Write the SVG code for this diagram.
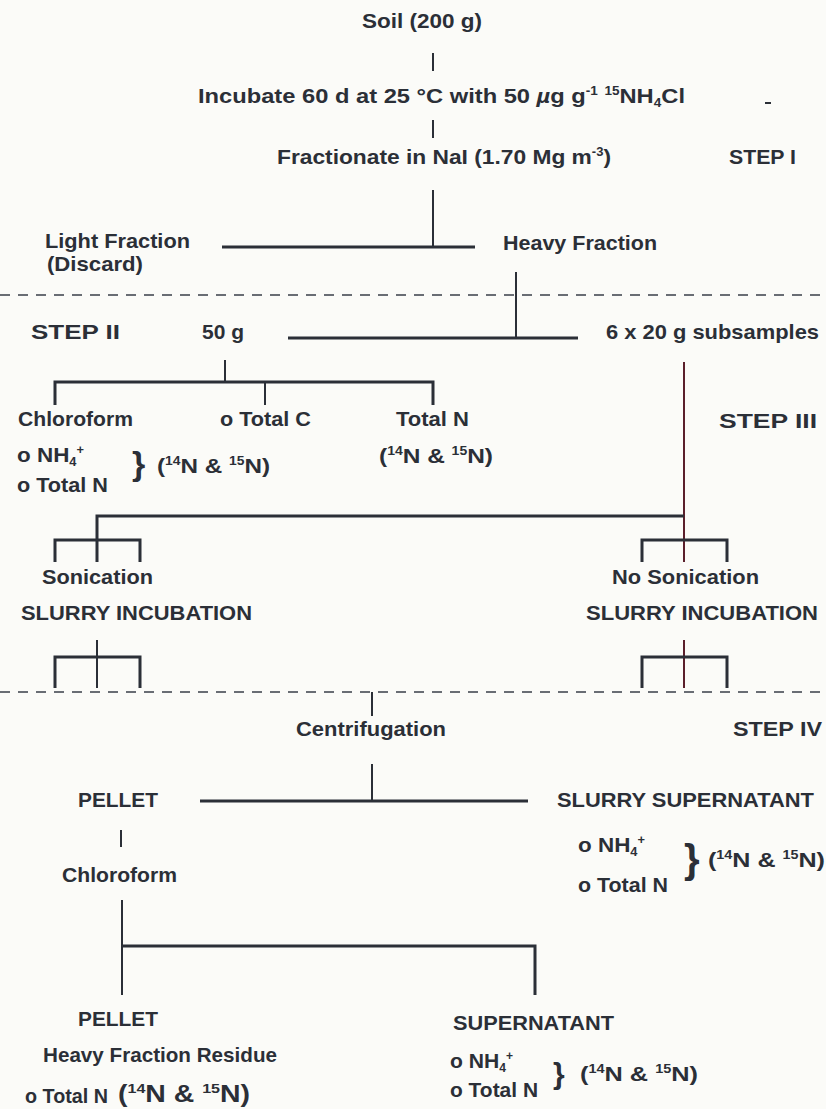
<svg xmlns="http://www.w3.org/2000/svg" width="826" height="1109" viewBox="0 0 826 1109">
<style>
text{font-family:"Liberation Sans",Arial,sans-serif;font-weight:bold;font-size:21px;fill:#2b2f37}
.ln{stroke:#2b2f37;stroke-width:3;fill:none}
.th{stroke:#2b2f37;stroke-width:2;fill:none}
.rd{stroke:#5b1f2b;stroke-width:2;fill:none}
.dash{stroke:#3a3f48;stroke-width:1.5;stroke-dasharray:10 8;fill:none}
.sup{font-size:12px}
</style>
<rect width="826" height="1109" fill="#fbfbf8"/>
<g id="connectors">
<line class="th" x1="433" y1="53" x2="433" y2="71"/>
<line class="th" x1="433" y1="120" x2="433" y2="138"/>
<line class="th" x1="433" y1="190" x2="433" y2="247"/>
<line class="ln" x1="222" y1="247" x2="475" y2="247"/>
<line class="dash" x1="0" y1="295" x2="826" y2="295"/>
<line class="th" x1="516" y1="272" x2="516" y2="338"/>
<line class="ln" x1="288" y1="338" x2="578" y2="338"/>
<line class="th" x1="225" y1="360" x2="225" y2="382"/>
<polyline class="ln" points="55,405 55,382 433,382 433,405"/>
<line class="th" x1="265" y1="382" x2="265" y2="405"/>
<line class="rd" x1="684" y1="362" x2="684" y2="562"/>
<polyline class="ln" points="97,562 97,516 684,516"/>
<polyline class="ln" points="55,562 55,540 140,540 140,562"/>
<polyline class="ln" points="642,562 642,540 727,540 727,562"/>
<line class="th" x1="97" y1="640" x2="97" y2="688"/>
<polyline class="ln" points="55,688 55,657 140,657 140,688"/>
<line class="rd" x1="684" y1="640" x2="684" y2="688"/>
<polyline class="ln" points="642,688 642,657 727,657 727,688"/>
<line class="dash" x1="0" y1="692" x2="826" y2="692"/>
<line class="th" x1="372" y1="692" x2="372" y2="716"/>
<line class="th" x1="372" y1="764" x2="372" y2="801"/>
<line class="ln" x1="200" y1="801" x2="528" y2="801"/>
<line class="th" x1="121" y1="830" x2="121" y2="847"/>
<line class="th" x1="122" y1="900" x2="122" y2="995"/>
<polyline class="ln" points="122,946 535,946 535,995"/>
<line class="th" x1="765" y1="103" x2="771" y2="103"/>
</g>
<g id="step1">
<text x="362" y="28" textLength="120" lengthAdjust="spacingAndGlyphs">Soil (200 g)</text>
<text x="198" y="103" textLength="487" lengthAdjust="spacingAndGlyphs">Incubate 60 d at 25 °C with 50 <tspan font-style="italic">µ</tspan>g g<tspan class="sup" dy="-8">-1</tspan><tspan dy="8"> </tspan><tspan class="sup" dy="-8">15</tspan><tspan dy="8">NH</tspan><tspan class="sup" dy="4">4</tspan><tspan dy="-4">Cl</tspan></text>
<text x="277" y="164" textLength="334" lengthAdjust="spacingAndGlyphs">Fractionate in NaI (1.70 Mg m<tspan class="sup" dy="-8">-3</tspan><tspan dy="8">)</tspan></text>
<text x="729" y="164" textLength="67" lengthAdjust="spacingAndGlyphs">STEP I</text>
</g>
<g id="light-fraction">
<text x="45" y="248" textLength="145" lengthAdjust="spacingAndGlyphs">Light Fraction</text>
<text x="47" y="271" textLength="96" lengthAdjust="spacingAndGlyphs">(Discard)</text>
</g>
<g id="heavy-fraction">
<text x="503" y="250" textLength="154" lengthAdjust="spacingAndGlyphs">Heavy Fraction</text>
</g>
<g id="step2">
<text x="31" y="339" textLength="89" lengthAdjust="spacingAndGlyphs">STEP II</text>
<text x="202" y="339" textLength="42" lengthAdjust="spacingAndGlyphs">50 g</text>
<text x="606" y="339" textLength="213" lengthAdjust="spacingAndGlyphs">6 x 20 g subsamples</text>
</g>
<g id="chloroform1">
<text x="18" y="426" textLength="115" lengthAdjust="spacingAndGlyphs">Chloroform</text>
<text x="17" y="462" textLength="67" lengthAdjust="spacingAndGlyphs">o NH<tspan class="sup" dy="4">4</tspan><tspan class="sup" dy="-12">+</tspan></text>
<text x="17" y="492" textLength="91" lengthAdjust="spacingAndGlyphs">o Total N</text>
<text x="132" y="475" style="font-size:34px">}</text>
<text x="157" y="473" textLength="113" lengthAdjust="spacingAndGlyphs">(<tspan class="sup" dy="-8">14</tspan><tspan dy="8">N &amp; </tspan><tspan class="sup" dy="-8">15</tspan><tspan dy="8">N)</tspan></text>
</g>
<g id="totalC">
<text x="220" y="426" textLength="91" lengthAdjust="spacingAndGlyphs">o Total C</text>
</g>
<g id="totalN">
<text x="396" y="426" textLength="73" lengthAdjust="spacingAndGlyphs">Total N</text>
<text x="379" y="463" textLength="114" lengthAdjust="spacingAndGlyphs">(<tspan class="sup" dy="-8">14</tspan><tspan dy="8">N &amp; </tspan><tspan class="sup" dy="-8">15</tspan><tspan dy="8">N)</tspan></text>
</g>
<g id="step3">
<text x="719" y="428" textLength="98" lengthAdjust="spacingAndGlyphs">STEP III</text>
</g>
<g id="sonication">
<text x="42" y="584" textLength="111" lengthAdjust="spacingAndGlyphs">Sonication</text>
<text x="21" y="620" textLength="231" lengthAdjust="spacingAndGlyphs">SLURRY INCUBATION</text>
</g>
<g id="no-sonication">
<text x="612" y="584" textLength="147" lengthAdjust="spacingAndGlyphs">No Sonication</text>
<text x="586" y="620" textLength="232" lengthAdjust="spacingAndGlyphs">SLURRY INCUBATION</text>
</g>
<g id="centrifugation">
<text x="296" y="736" textLength="150" lengthAdjust="spacingAndGlyphs">Centrifugation</text>
<text x="733" y="736" textLength="89" lengthAdjust="spacingAndGlyphs">STEP IV</text>
</g>
<g id="pellet1">
<text x="78" y="807" textLength="80" lengthAdjust="spacingAndGlyphs">PELLET</text>
</g>
<g id="chloroform2">
<text x="62" y="882" textLength="115" lengthAdjust="spacingAndGlyphs">Chloroform</text>
</g>
<g id="slurry-supernatant">
<text x="557" y="807" textLength="257" lengthAdjust="spacingAndGlyphs">SLURRY SUPERNATANT</text>
<text x="578" y="852" textLength="67" lengthAdjust="spacingAndGlyphs">o NH<tspan class="sup" dy="4">4</tspan><tspan class="sup" dy="-12">+</tspan></text>
<text x="578" y="892" textLength="90" lengthAdjust="spacingAndGlyphs">o Total N</text>
<text x="684" y="873" style="font-size:40px">}</text>
<text x="708" y="867" textLength="117" lengthAdjust="spacingAndGlyphs">(<tspan class="sup" dy="-8">14</tspan><tspan dy="8">N &amp; </tspan><tspan class="sup" dy="-8">15</tspan><tspan dy="8">N)</tspan></text>
</g>
<g id="pellet2">
<text x="78" y="1026" textLength="80" lengthAdjust="spacingAndGlyphs">PELLET</text>
<text x="43" y="1062" textLength="234" lengthAdjust="spacingAndGlyphs">Heavy Fraction Residue</text>
<text x="25" y="1103" textLength="83" lengthAdjust="spacingAndGlyphs">o Total N</text>
<text x="118" y="1102" textLength="132" lengthAdjust="spacingAndGlyphs" style="font-size:23px">(<tspan style="font-size:13px" dy="-9">14</tspan><tspan dy="9">N &amp; </tspan><tspan style="font-size:13px" dy="-9">15</tspan><tspan dy="9">N)</tspan></text>
</g>
<g id="supernatant">
<text x="453" y="1030" textLength="161" lengthAdjust="spacingAndGlyphs">SUPERNATANT</text>
<text x="450" y="1068" textLength="63" lengthAdjust="spacingAndGlyphs">o NH<tspan class="sup" dy="4">4</tspan><tspan class="sup" dy="-12">+</tspan></text>
<text x="450" y="1097" textLength="88" lengthAdjust="spacingAndGlyphs">o Total N</text>
<text x="553" y="1084" style="font-size:30px">}</text>
<text x="580" y="1081" textLength="118" lengthAdjust="spacingAndGlyphs">(<tspan class="sup" dy="-8">14</tspan><tspan dy="8">N &amp; </tspan><tspan class="sup" dy="-8">15</tspan><tspan dy="8">N)</tspan></text>
</g>
</svg>
